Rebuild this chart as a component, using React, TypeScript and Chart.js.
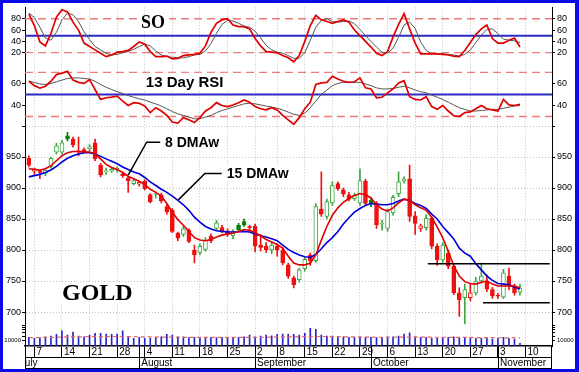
import React, { useEffect, useRef } from 'react';
import { Chart, registerables } from 'chart.js';

Chart.register(...registerables);

// ---- trading days: index 0 = Jul 3 2008 ... index 89 = Nov 7 2008 ----
const opens = [948, 927, 928, 924, 934, 958, 958, 984, 979, 960, 962, 963, 973, 937, 926, 927, 929, 923, 916, 907, 906, 911, 889, 890, 889, 870, 864, 827, 825, 832, 800, 796, 801, 822, 835, 836, 831, 823, 840, 846, 837, 838, 808, 806, 800, 806, 800, 776, 755, 752, 770, 792, 783, 866, 854, 876, 907, 897, 889, 883, 876, 911, 880, 875, 842, 835, 860, 891, 911, 915, 855, 835, 836, 851, 806, 784, 795, 774, 731, 723, 723, 731, 750, 750, 736, 727, 724, 758, 742, 732];
const highs = [952, 932, 929, 931, 950, 972, 977, 990, 982, 982, 965, 970, 979, 940, 932, 933, 934, 925, 918, 914, 911, 913, 891, 894, 892, 873, 867, 829, 838, 834, 808, 810, 820, 826, 848, 840, 834, 833, 843, 850, 840, 842, 825, 812, 812, 810, 803, 779, 758, 771, 788, 795, 875, 926, 882, 910, 910, 900, 893, 892, 931, 914, 884, 878, 848, 866, 888, 926, 918, 937, 862, 842, 857, 853, 810, 812, 800, 776, 739, 745, 745, 756, 779, 760, 740, 730, 769, 771, 745, 745];
const lows = [934, 922, 915, 920, 932, 955, 955, 976, 966, 952, 956, 960, 944, 918, 922, 925, 926, 917, 893, 905, 903, 897, 876, 884, 876, 858, 828, 815, 822, 812, 779, 792, 798, 812, 832, 828, 822, 818, 830, 838, 832, 797, 798, 796, 794, 790, 776, 754, 739, 748, 766, 775, 780, 854, 850, 872, 896, 886, 879, 880, 872, 872, 870, 835, 832, 830, 856, 886, 908, 846, 825, 830, 832, 802, 775, 780, 770, 728, 693, 681, 718, 727, 746, 733, 722, 722, 722, 736, 727, 727];
const closes = [937, 929, 925, 929, 948, 968, 973, 979, 969, 958, 957, 967, 947, 921, 927, 930, 932, 920, 912, 912, 909, 899, 878, 891, 879, 862, 830, 819, 834, 814, 792, 806, 816, 815, 844, 831, 825, 830, 833, 840, 836, 806, 804, 800, 808, 800, 779, 758, 744, 768, 785, 783, 870, 858, 878, 904, 899, 890, 882, 888, 912, 875, 876, 841, 843, 862, 885, 910, 915, 854, 843, 839, 851, 806, 784, 808, 774, 731, 720, 736, 731, 750, 758, 737, 726, 725.5, 763, 742, 731, 739];

const dmaw8 = [931, 930, 929, 931, 936, 944, 952, 957, 959, 959, 958, 958, 955, 947, 938, 933, 930, 925, 919, 915, 911, 906, 898, 893, 887, 875, 861, 849, 840, 830, 820, 816, 815, 817, 821, 824, 826, 827, 830, 833, 832, 828, 823, 817, 813, 809, 803, 790, 779, 776, 776, 779, 792, 816, 838, 856, 868, 877, 883, 888, 891, 889, 884, 873, 866, 863, 868, 876, 882, 880, 873, 868, 864, 853, 837, 820, 798, 775, 758, 749, 746, 745, 748, 750, 745, 742, 742, 742, 742, 739];
const dmaw15 = [918, 920, 922, 925, 929, 935, 942, 948, 952, 955, 957, 957, 955, 951, 947, 943, 939, 934, 930, 926, 923, 917, 910, 904, 898, 893, 887, 880, 873, 864, 853, 845, 838, 834, 831, 830, 829, 829, 829.5, 830, 829, 826, 823, 821, 818, 815, 808, 801, 796, 792, 789, 788, 793, 802, 812, 820, 830, 842, 852, 861, 867, 872, 875, 874, 873, 873, 875, 879, 882, 880, 875, 872, 867, 858, 850, 838, 828, 818, 803, 795, 790, 778, 768, 758, 751, 746, 745, 744, 740, 737];

const soK = [88, 68, 39, 32, 54, 83, 96, 92, 74, 60, 37, 31, 25, 19, 13, 16, 21, 22, 24, 31, 39, 35, 22, 13, 13, 14, 9, 10, 15, 16, 17, 19, 32, 56, 72, 78, 80, 69, 66, 66, 62, 45, 32, 22, 21, 20, 15, 11, 4, 15, 40, 68, 86, 78, 75, 72, 75, 78, 74, 60, 50, 40, 30, 19, 15, 22, 48, 70, 89, 62, 37, 18, 18, 18, 18, 17, 16, 14, 13, 24, 38, 52, 62, 69, 45, 37, 37, 42, 46, 30];
const soD = [90, 82, 65, 46, 42, 56, 78, 90, 87, 75, 57, 43, 31, 25, 19, 16, 17, 20, 22, 26, 31, 35, 32, 23, 16, 13, 12, 11, 11, 13, 16, 17, 23, 36, 54, 70, 77, 76, 72, 67, 65, 58, 46, 33, 25, 21, 19, 15, 10, 10, 20, 42, 65, 77, 80, 75, 74, 75, 76, 71, 61, 50, 40, 30, 21, 19, 28, 47, 69, 74, 63, 39, 24, 18, 18, 18, 17, 16, 14, 17, 25, 38, 51, 61, 62, 54, 44, 42, 41, 38];

const rsi13 = [62, 58, 55.7, 57.5, 62, 68, 69.4, 71, 63, 61, 60, 63.4, 54.5, 45.5, 47, 47.6, 48.5, 44, 40, 42.6, 42, 39.6, 33.6, 38, 35, 31, 25, 24, 29, 27, 24.5, 29, 35, 38, 42.6, 40, 39, 40.5, 42.5, 45, 43, 39, 37, 36, 38, 36, 31, 27, 23, 29, 37, 43, 59, 60.5, 61, 66.5, 64, 62, 61, 61.5, 65, 56, 55, 47, 47.5, 51.5, 55, 60.5, 62.5, 48, 45.5, 45, 48, 39, 36.6, 40, 35, 30.7, 30, 33.6, 34.2, 37, 40, 37, 36, 35, 45.5, 40.5, 40, 41];
const rsiAvg = [62, 61, 59.5, 59, 60, 61.5, 63, 64.5, 65, 65, 64.5, 64, 62, 59, 56.5, 54.5, 52.5, 51, 49, 47.5, 46, 45, 43, 41.5, 39.5, 37, 34.5, 32.5, 31, 29.5, 28, 28, 29.5, 31, 33.5, 35.5, 37, 38.5, 40, 41.5, 42, 41.5, 40.5, 39.5, 38.5, 37.5, 36, 34, 32, 31, 33, 38, 44, 50, 54, 58, 60, 61, 61, 61, 61, 59.5, 58, 56, 55, 55, 55.5, 56.5, 57.5, 56, 54, 52.5, 51.5, 49.5, 47.5, 45.5, 43, 40.5, 38, 36.5, 35, 35, 35.5, 36, 36.5, 36.5, 37.5, 38.5, 39.5, 40];

const volume = [88, 78, 85, 94, 101, 118, 155, 111, 141, 101, 94, 111, 128, 128, 121, 118, 121, 155, 88, 78, 88, 78, 78, 88, 94, 118, 111, 94, 94, 85, 88, 88, 85, 88, 85, 88, 88, 85, 88, 94, 111, 94, 101, 111, 104, 118, 121, 121, 118, 111, 128, 179, 169, 111, 101, 101, 94, 94, 88, 88, 94, 88, 88, 85, 88, 94, 94, 101, 121, 135, 94, 88, 88, 78, 78, 88, 88, 94, 88, 88, 85, 78, 78, 78, 71, 78, 88, 78, 67, 27];
const volumeAvg = [86, 86, 86, 87, 88, 89, 91, 92, 93, 94, 94, 95, 95, 96, 96, 97, 97, 97, 96, 95, 94, 93, 92, 91, 90, 90, 89, 89, 88, 88, 88, 87, 87, 87, 87, 87, 87, 87, 87, 87, 88, 88, 89, 89, 90, 91, 92, 93, 93, 94, 95, 96, 97, 97, 97, 96, 95, 94, 93, 92, 91, 90, 90, 89, 89, 89, 89, 90, 90, 91, 91, 90, 90, 90, 89, 89, 89, 88, 88, 88, 87, 86, 86, 85, 85, 84, 84, 83, 83, 82];

// ---- axes ----
const X_MIN = -0.7;
const X_MAX = 94.8;
const weekTickIdx = [1, 6, 11, 16, 21, 26, 31, 36, 41, 45, 50, 55, 60, 65, 70, 75, 80, 85, 90];
const weekTickLabels = ['7', '14', '21', '28', '4', '11', '18', '25', '2', '8', '15', '22', '29', '6', '13', '20', '27', '3', '10'];
const monthStartIdx = [-2, 20, 41, 62, 85];
const monthLabels = ['July', 'August', 'September', 'October', 'November'];

const soTicks = [20, 40, 60, 80];
const soBands = [80, 20];
const soMid = [50];
const rsiTicks = [40, 60];
const rsiBands = [70, 30];
const rsiMid = [50];
const priceTicks = [700, 750, 800, 850, 900, 950, 1000];
const volTicks = [60, 100, 140, 170, 190, 205];
const volLabelTick = 60;
const volLabelText = '10000';

const resistance = { from: 72.3, to: 94.4, level: 778 };
const support = { from: 82.3, to: 94.4, level: 715 };

const SANS = '"Liberation Sans", Arial, sans-serif';
const SERIF = '"Liberation Serif", "Times New Roman", serif';

export default function App() {
  const canvasRef = useRef<HTMLCanvasElement | null>(null);

  useEffect(() => {
    const canvas = canvasRef.current;
    if (!canvas) return;

    const RED = '#ee1111';
    const GREEN = '#3ea63e';
    const DKGREEN = '#0a7d0a';
    const isUp = (i: number) => i > 0 && closes[i] >= closes[i - 1];
    const isFilled = (i: number) => closes[i] < opens[i];
    const stroke = (i: number) => (isUp(i) ? (isFilled(i) ? DKGREEN : GREEN) : RED);
    const fillC = (i: number) => (isFilled(i) ? stroke(i) : '#ffffff');

    const series = (arr: number[]) => arr.map((v, i) => ({ x: i, y: v }));
    const level = (v: number) => [{ x: X_MIN, y: v }, { x: X_MAX, y: v }];
    const line = (data: any[], yAxisID: string, color: string, width: number, order: number, dash: number[] = []) => ({
      type: 'line' as const,
      data,
      xAxisID: 'x',
      yAxisID,
      borderColor: color,
      borderWidth: width,
      borderDash: dash,
      pointRadius: 0,
      fill: false,
      tension: 0,
      order,
    });

    const datasets: any[] = [];
    soBands.forEach((v) => datasets.push(line(level(v), 'yso', '#f07a7a', 1.3, 20, [8, 5])));
    soMid.forEach((v) => datasets.push(line(level(v), 'yso', '#2b2bc4', 2, 19)));
    rsiBands.forEach((v) => datasets.push(line(level(v), 'yrsi', '#f07a7a', 1.3, 20, [8, 5])));
    rsiMid.forEach((v) => datasets.push(line(level(v), 'yrsi', '#2b2bc4', 2, 19)));
    datasets.push(line(series(soD), 'yso', '#555555', 1, 15));
    datasets.push(line(series(soK), 'yso', '#e00000', 1.7, 14));
    datasets.push(line(series(rsiAvg), 'yrsi', '#555555', 1, 15));
    datasets.push(line(series(rsi13), 'yrsi', '#e00000', 1.7, 14));

    datasets.push({
      type: 'bar',
      data: lows.map((l, i) => ({ x: i, y: [l, highs[i]] })),
      xAxisID: 'x',
      yAxisID: 'yp',
      backgroundColor: (c: any) => stroke(c.dataIndex),
      borderWidth: 0,
      barThickness: 1,
      grouped: false,
      order: 9,
    });
    datasets.push({
      type: 'bar',
      data: opens.map((o, i) => ({ x: i, y: [o, closes[i]] })),
      xAxisID: 'x',
      yAxisID: 'yp',
      backgroundColor: (c: any) => fillC(c.dataIndex),
      borderColor: (c: any) => stroke(c.dataIndex),
      borderWidth: 1,
      borderSkipped: false,
      barThickness: 4,
      minBarLength: 1,
      grouped: false,
      order: 8,
    });
    datasets.push(line(series(dmaw15), 'yp', '#0000d8', 1.6, 5));
    datasets.push(line(series(dmaw8), 'yp', '#e00000', 1.6, 4));
    [resistance, support].forEach((r) =>
      datasets.push(line([{ x: r.from, y: r.level }, { x: r.to, y: r.level }], 'yp', '#000000', 1.5, 3))
    );

    datasets.push({
      type: 'bar',
      data: series(volume),
      xAxisID: 'x',
      yAxisID: 'yv',
      backgroundColor: '#2424c8',
      borderWidth: 0,
      barThickness: 1,
      grouped: false,
      order: 12,
    });
    datasets.push(line(series(volumeAvg), 'yv', '#e86060', 1.2, 11, [4, 3]));

    const yAxis = (
      position: 'left' | 'right',
      weight: number,
      stackWeight: number,
      min: number,
      max: number,
      tickVals: number[],
      labelFn: (v: number) => string,
      gridOnArea = false,
      fontSize = 9
    ) => ({
      type: 'linear',
      position,
      stack: position === 'left' ? 'L' : 'R',
      weight,
      stackWeight,
      min,
      max,
      offset: false,
      grid: {
        display: true,
        drawOnChartArea: gridOnArea,
        drawTicks: true,
        tickLength: 3,
        color: gridOnArea ? '#c2c2c2' : '#000000',
        tickColor: '#000000',
        lineWidth: 1,
        offset: false,
      },
      border: { display: true, color: '#000000', width: 1, dash: gridOnArea ? [1, 2] : [] },
      ticks: {
        autoSkip: false,
        padding: position === 'left' ? 1 : 2,
        color: '#000000',
        font: { family: SANS, size: fontSize },
        callback: (v: any) => labelFn(Number(v)),
      },
      afterBuildTicks: (s: any) => {
        s.ticks = tickVals.map((v) => ({ value: v }));
      },
      afterFit: (s: any) => {
        s.width = position === 'left' ? 22 : 23;
      },
    });

    const plain = (v: number) => String(v);
    const priceLabel = (v: number) => (v === 1000 ? '' : String(v));
    const volLabel = (v: number) => (v === volLabelTick ? volLabelText : '');

    const W_SO = 57.2, W_RSI = 62.6, W_P = 200.4, W_V = 21.8;

    const overlay = {
      id: 'overlay',
      afterDraw(chart: any) {
        const { ctx, scales, chartArea } = chart;
        const x = scales.x;
        const yp = scales.yp;
        const yso = scales.yso;
        const yrsi = scales.yrsi;
        const L = chartArea.left;
        const R = chartArea.right;
        const rowTop = x.bottom;
        const rowBot = rowTop + 12;
        ctx.save();
        ctx.strokeStyle = '#000';
        ctx.lineWidth = 1;
        const seg = (x1: number, y1: number, x2: number, y2: number) => {
          ctx.beginPath();
          ctx.moveTo(x1, y1);
          ctx.lineTo(x2, y2);
          ctx.stroke();
        };
        seg(L, rowTop + 0.5, R, rowTop + 0.5);
        seg(L, rowBot - 0.5, R, rowBot - 0.5);
        seg(L + 0.5, x.top, L + 0.5, rowBot);
        seg(R - 0.5, x.top, R - 0.5, rowBot);
        monthStartIdx.forEach((m) => {
          const px = Math.round(x.getPixelForValue(m)) + 0.5;
          if (px > L && px < R) seg(px, x.top, px, rowBot);
        });
        ctx.save();
        ctx.beginPath();
        ctx.rect(L + 1, rowTop, R - L - 2, 12);
        ctx.clip();
        ctx.fillStyle = '#000';
        ctx.font = `10px ${SANS}`;
        ctx.textAlign = 'left';
        ctx.textBaseline = 'middle';
        monthLabels.forEach((m, k) => {
          ctx.fillText(m, x.getPixelForValue(monthStartIdx[k]) + 2, rowTop + 6.5);
        });
        ctx.restore();

        // leader lines for the moving-average labels
        const leaders = [
          [[18.0, 920.8], [21.35, 973.9], [23.8, 973.9]],
          [[27.08, 880.9], [31.9, 923.4], [34.94, 923.4]],
        ];
        ctx.lineWidth = 1.5;
        leaders.forEach((pts) => {
          ctx.beginPath();
          pts.forEach(([a, b], k) => {
            const px = x.getPixelForValue(a);
            const py = yp.getPixelForValue(b);
            if (k === 0) ctx.moveTo(px, py);
            else ctx.lineTo(px, py);
          });
          ctx.stroke();
        });

        const label = (text: string, font: string, px: number, py: number, align: 'left' | 'center', padX: number, padY: number, h: number) => {
          ctx.font = font;
          const w = ctx.measureText(text).width;
          const left = align === 'left' ? px : px - w / 2;
          ctx.fillStyle = '#ffffff';
          ctx.fillRect(left - padX, py - h / 2 - padY, w + padX * 2, h + padY * 2);
          ctx.fillStyle = '#000000';
          ctx.textAlign = 'left';
          ctx.textBaseline = 'middle';
          ctx.fillText(text, left, py + 1);
        };
        label('SO', `bold 18px ${SERIF}`, x.getPixelForValue(22.5), yso.getPixelForValue(73.3), 'center', 4, 1, 14);
        label('13 Day RSI', `bold 15px ${SANS}`, x.getPixelForValue(21.2), yrsi.getPixelForValue(61.4), 'left', 9, 2, 14);
        label('8 DMAw', `bold 14px ${SANS}`, x.getPixelForValue(24.67), yp.getPixelForValue(974), 'left', 2, 1, 12);
        label('15 DMAw', `bold 14px ${SANS}`, x.getPixelForValue(35.85), yp.getPixelForValue(923.4), 'left', 2, 1, 12);
        label('GOLD', `bold 24px ${SERIF}`, x.getPixelForValue(6.0), yp.getPixelForValue(731.5), 'left', 2, 1, 18);

        // blue frame
        ctx.fillStyle = '#0a0ae6';
        const cw = chart.width;
        const ch = chart.height;
        ctx.fillRect(0, 0, cw, 3);
        ctx.fillRect(0, 0, 3, ch);
        ctx.fillRect(cw - 4, 0, 4, ch);
        ctx.fillRect(0, ch - 3, cw, 3);
        ctx.restore();
      },
    };

    const chart = new Chart(canvas, {
      type: 'line',
      data: { datasets },
      options: {
        animation: false,
        responsive: false,
        events: [],
        layout: { padding: { left: 3, right: 4, top: 4, bottom: 15 } },
        plugins: { legend: { display: false }, tooltip: { enabled: false } },
        scales: {
          x: {
            type: 'linear',
            position: 'bottom',
            min: X_MIN,
            max: X_MAX,
            offset: false,
            weight: 0,
            grid: {
              display: true,
              drawOnChartArea: true,
              drawTicks: true,
              tickLength: 11,
              color: '#c2c2c2',
              tickColor: '#000000',
              lineWidth: 1,
              offset: false,
            },
            border: { display: true, color: '#000000', width: 1.5, dash: [1, 2] },
            ticks: {
              autoSkip: false,
              maxRotation: 0,
              minRotation: 0,
              align: 'start',
              labelOffset: 2,
              padding: -11,
              color: '#000000',
              font: { family: SANS, size: 10 },
              callback: (_v: any, i: number) => weekTickLabels[i],
            },
            afterBuildTicks: (s: any) => {
              s.ticks = weekTickIdx.map((v) => ({ value: v }));
            },
            afterFit: (s: any) => {
              s.height = 11;
            },
          },
          yso: yAxis('left', 4, W_SO, 0, 100, soTicks, plain),
          yrsi: yAxis('left', 3, W_RSI, 21.4, 77.6, rsiTicks, plain),
          yp: yAxis('left', 2, W_P, 680, 1000, priceTicks, priceLabel, true),
          yv: yAxis('left', 1, W_V, 0, 220, volTicks, volLabel, false, 6),
          rso: yAxis('right', 1, W_SO, 0, 100, soTicks, plain),
          rrsi: yAxis('right', 2, W_RSI, 21.4, 77.6, rsiTicks, plain),
          rp: yAxis('right', 3, W_P, 680, 1000, priceTicks, priceLabel),
          rv: yAxis('right', 4, W_V, 0, 220, volTicks, volLabel, false, 6),
        } as any,
      },
      plugins: [overlay],
    } as any);

    return () => chart.destroy();
  }, []);

  return (
    <div style={{ position: 'fixed', left: 0, top: 0, width: 579, height: 372, background: '#ffffff' }}>
      <canvas ref={canvasRef} width={579} height={372} style={{ display: 'block', width: 579, height: 372 }} />
    </div>
  );
}
